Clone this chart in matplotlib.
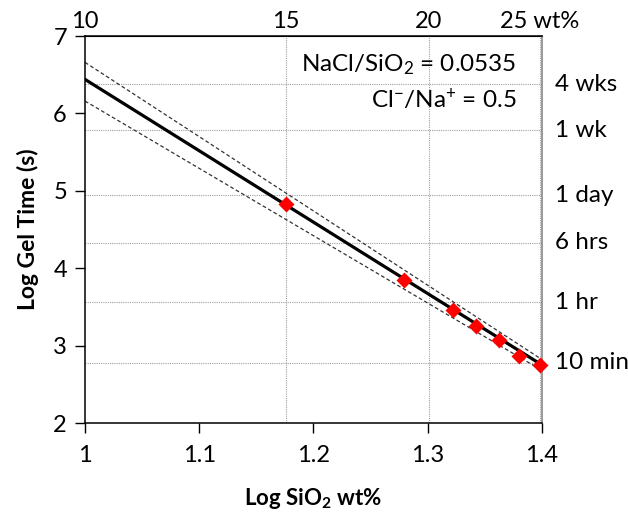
import matplotlib
matplotlib.use('Agg')
import matplotlib.pyplot as plt

plt.rcParams['font.family'] = ['Lato', 'DejaVu Sans']
plt.rcParams['mathtext.fontset'] = 'custom'
plt.rcParams['mathtext.rm'] = 'Lato'
plt.rcParams['mathtext.it'] = 'Lato:italic'
plt.rcParams['mathtext.bf'] = 'Lato:bold'

# measured points (log SiO2 wt%, log gel time in s)
log_sio2 = [1.176, 1.279, 1.322, 1.342, 1.362, 1.380, 1.398]
log_gel = [4.83, 3.85, 3.46, 3.25, 3.07, 2.87, 2.75]

# fit line and its bounds
fit_x = [1.0, 1.4]
fit_y = [6.44, 2.75]
upper_y = [6.66, 2.82]
lower_y = [6.16, 2.68]

# top axis: wt%
top_ticks = [1.0, 1.176, 1.301, 1.398]
top_labels = ['10', '15', '20', '25 wt%']

# right side: time marks
time_log = [6.38, 5.78, 4.94, 4.33, 3.56, 2.78]
time_labels = ['4 wks', '1 wk', '1 day', '6 hrs', '1 hr', '10 min']

fig = plt.figure(figsize=(6.28, 5.15), dpi=100)
ax = fig.add_axes([0.1354, 0.1786, 0.7276, 0.7514])

for y in time_log:
    ax.axhline(y, color='#a0a0a0', lw=0.8, ls=(0, (1, 1)), zorder=1)
for x in top_ticks[1:]:
    ax.axvline(x, color='#a0a0a0', lw=0.8, ls=(0, (1, 1)), zorder=1)

ax.plot(fit_x, upper_y, color='#333333', lw=0.9, ls=(0, (3, 2)), zorder=2)
ax.plot(fit_x, lower_y, color='#333333', lw=0.9, ls=(0, (3, 2)), zorder=2)
ax.plot(fit_x, fit_y, color='black', lw=2.3, zorder=3)
ax.plot(log_sio2, log_gel, 'D', color='#ff0000', ms=8, mec='none', zorder=4, clip_on=False)

ax.set_xlim(1.0, 1.4)
ax.set_ylim(2, 7)
ax.set_xticks([1, 1.1, 1.2, 1.3, 1.4])
ax.set_xticklabels(['1', '1.1', '1.2', '1.3', '1.4'])
ax.set_yticks([2, 3, 4, 5, 6, 7])
ax.tick_params(axis='both', direction='out', length=7, width=1, labelsize=17, pad=6)
ax.tick_params(axis='x', pad=9)

ax.spines['right'].set_color('#888888')
ax.spines['right'].set_linewidth(1.2)
for s in ['left', 'bottom', 'top']:
    ax.spines[s].set_linewidth(1.1)

sec = ax.secondary_xaxis('top')
sec.set_xticks(top_ticks)
sec.set_xticklabels(top_labels)
sec.tick_params(length=0, labelsize=17, pad=3)

for y, lab in zip(time_log, time_labels):
    ax.text(1.411, y, lab, fontsize=17.5, va='center', ha='left', clip_on=False)

ax.text(0.945, 0.925, 'NaCl/SiO$_2$ = 0.0535', transform=ax.transAxes,
        ha='right', va='center', fontsize=17.5)
ax.text(0.945, 0.838, 'Cl$^{-}$/Na$^{+}$ = 0.5', transform=ax.transAxes,
        ha='right', va='center', fontsize=17.5)

ax.set_xlabel('Log SiO$_\\mathbf{2}$ wt%', fontsize=16, fontweight='bold', labelpad=14)
ax.set_ylabel('Log Gel Time (s)', fontsize=16.5, fontweight='bold', labelpad=10)

fig.savefig('out.png', dpi=100)
